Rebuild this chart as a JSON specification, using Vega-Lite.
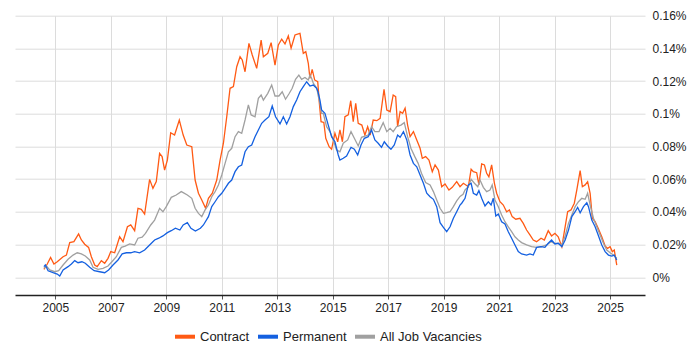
{
  "$schema": "https://vega.github.io/schema/vega-lite/v6.json",
  "width": 630,
  "height": 279.3,
  "autosize": "none",
  "padding": {"left": 15, "top": 15.7, "right": 55, "bottom": 55},
  "background": "white",
  "config": {
    "view": {"stroke": null},
    "font": "Liberation Sans",
    "axis": {"labelFont": "Liberation Sans", "labelFontSize": 12, "labelColor": "#222", "gridColor": "#dcdcdc", "gridWidth": 1},
    "legend": {"labelFont": "Liberation Sans", "labelFontSize": 13, "labelColor": "#222"}
  },
  "data": {"values": [
{"d":2004.59,"s":"Contract","v":0.0049},{"d":2004.71,"s":"Contract","v":0.0081},{"d":2004.83,"s":"Contract","v":0.0122},{"d":2004.95,"s":"Contract","v":0.0081},{"d":2005.07,"s":"Contract","v":0.0095},{"d":2005.28,"s":"Contract","v":0.0126},{"d":2005.40,"s":"Contract","v":0.0136},{"d":2005.52,"s":"Contract","v":0.0212},{"d":2005.67,"s":"Contract","v":0.0218},{"d":2005.84,"s":"Contract","v":0.0265},{"d":2005.94,"s":"Contract","v":0.0228},{"d":2006.06,"s":"Contract","v":0.0202},{"d":2006.20,"s":"Contract","v":0.0183},{"d":2006.30,"s":"Contract","v":0.0126},{"d":2006.42,"s":"Contract","v":0.0075},{"d":2006.51,"s":"Contract","v":0.0065},{"d":2006.66,"s":"Contract","v":0.0102},{"d":2006.78,"s":"Contract","v":0.0086},{"d":2006.90,"s":"Contract","v":0.0116},{"d":2007.00,"s":"Contract","v":0.0157},{"d":2007.14,"s":"Contract","v":0.0150},{"d":2007.32,"s":"Contract","v":0.0248},{"d":2007.44,"s":"Contract","v":0.0218},{"d":2007.60,"s":"Contract","v":0.0309},{"d":2007.72,"s":"Contract","v":0.0320},{"d":2007.86,"s":"Contract","v":0.0285},{"d":2007.98,"s":"Contract","v":0.0422},{"d":2008.10,"s":"Contract","v":0.0416},{"d":2008.22,"s":"Contract","v":0.0387},{"d":2008.40,"s":"Contract","v":0.0599},{"d":2008.52,"s":"Contract","v":0.0544},{"d":2008.64,"s":"Contract","v":0.0585},{"d":2008.76,"s":"Contract","v":0.0758},{"d":2008.85,"s":"Contract","v":0.0738},{"d":2008.94,"s":"Contract","v":0.0656},{"d":2009.04,"s":"Contract","v":0.0717},{"d":2009.16,"s":"Contract","v":0.0884},{"d":2009.30,"s":"Contract","v":0.0870},{"d":2009.47,"s":"Contract","v":0.0962},{"d":2009.61,"s":"Contract","v":0.0870},{"d":2009.74,"s":"Contract","v":0.0809},{"d":2009.92,"s":"Contract","v":0.0799},{"d":2010.04,"s":"Contract","v":0.0595},{"d":2010.16,"s":"Contract","v":0.0514},{"d":2010.28,"s":"Contract","v":0.0473},{"d":2010.42,"s":"Contract","v":0.0422},{"d":2010.52,"s":"Contract","v":0.0483},{"d":2010.66,"s":"Contract","v":0.0514},{"d":2010.82,"s":"Contract","v":0.0595},{"d":2010.94,"s":"Contract","v":0.0717},{"d":2011.06,"s":"Contract","v":0.0820},{"d":2011.18,"s":"Contract","v":0.0982},{"d":2011.30,"s":"Contract","v":0.1156},{"d":2011.42,"s":"Contract","v":0.1166},{"d":2011.54,"s":"Contract","v":0.1288},{"d":2011.66,"s":"Contract","v":0.1349},{"d":2011.74,"s":"Contract","v":0.1329},{"d":2011.84,"s":"Contract","v":0.1257},{"d":2011.98,"s":"Contract","v":0.1431},{"d":2012.10,"s":"Contract","v":0.1360},{"d":2012.26,"s":"Contract","v":0.1278},{"d":2012.42,"s":"Contract","v":0.1451},{"d":2012.50,"s":"Contract","v":0.1349},{"d":2012.66,"s":"Contract","v":0.1370},{"d":2012.78,"s":"Contract","v":0.1435},{"d":2012.92,"s":"Contract","v":0.1298},{"d":2013.04,"s":"Contract","v":0.1421},{"d":2013.16,"s":"Contract","v":0.1456},{"d":2013.28,"s":"Contract","v":0.1427},{"d":2013.40,"s":"Contract","v":0.1476},{"d":2013.50,"s":"Contract","v":0.1401},{"d":2013.64,"s":"Contract","v":0.1482},{"d":2013.82,"s":"Contract","v":0.1492},{"d":2013.94,"s":"Contract","v":0.1370},{"d":2014.03,"s":"Contract","v":0.1380},{"d":2014.12,"s":"Contract","v":0.1309},{"d":2014.18,"s":"Contract","v":0.1217},{"d":2014.26,"s":"Contract","v":0.1272},{"d":2014.35,"s":"Contract","v":0.1207},{"d":2014.46,"s":"Contract","v":0.1196},{"d":2014.52,"s":"Contract","v":0.1064},{"d":2014.58,"s":"Contract","v":0.0952},{"d":2014.68,"s":"Contract","v":0.0947},{"d":2014.75,"s":"Contract","v":0.0850},{"d":2014.87,"s":"Contract","v":0.0799},{"d":2014.96,"s":"Contract","v":0.0783},{"d":2015.08,"s":"Contract","v":0.0881},{"d":2015.18,"s":"Contract","v":0.0829},{"d":2015.26,"s":"Contract","v":0.0901},{"d":2015.35,"s":"Contract","v":0.0829},{"d":2015.44,"s":"Contract","v":0.0982},{"d":2015.56,"s":"Contract","v":0.0993},{"d":2015.65,"s":"Contract","v":0.1080},{"d":2015.74,"s":"Contract","v":0.0952},{"d":2015.83,"s":"Contract","v":0.1064},{"d":2015.92,"s":"Contract","v":0.0942},{"d":2016.05,"s":"Contract","v":0.0931},{"d":2016.16,"s":"Contract","v":0.0870},{"d":2016.26,"s":"Contract","v":0.0921},{"d":2016.35,"s":"Contract","v":0.0870},{"d":2016.46,"s":"Contract","v":0.0962},{"d":2016.59,"s":"Contract","v":0.0958},{"d":2016.71,"s":"Contract","v":0.0972},{"d":2016.85,"s":"Contract","v":0.1150},{"d":2016.95,"s":"Contract","v":0.1023},{"d":2017.07,"s":"Contract","v":0.1013},{"d":2017.18,"s":"Contract","v":0.1115},{"d":2017.27,"s":"Contract","v":0.1105},{"d":2017.34,"s":"Contract","v":0.0921},{"d":2017.43,"s":"Contract","v":0.1013},{"d":2017.52,"s":"Contract","v":0.1003},{"d":2017.61,"s":"Contract","v":0.1034},{"d":2017.70,"s":"Contract","v":0.0931},{"d":2017.79,"s":"Contract","v":0.0860},{"d":2017.91,"s":"Contract","v":0.0891},{"d":2018.03,"s":"Contract","v":0.0840},{"d":2018.15,"s":"Contract","v":0.0789},{"d":2018.23,"s":"Contract","v":0.0728},{"d":2018.35,"s":"Contract","v":0.0738},{"d":2018.47,"s":"Contract","v":0.0717},{"d":2018.59,"s":"Contract","v":0.0646},{"d":2018.69,"s":"Contract","v":0.0687},{"d":2018.81,"s":"Contract","v":0.0656},{"d":2018.93,"s":"Contract","v":0.0554},{"d":2019.05,"s":"Contract","v":0.0571},{"d":2019.19,"s":"Contract","v":0.0534},{"d":2019.31,"s":"Contract","v":0.0550},{"d":2019.47,"s":"Contract","v":0.0585},{"d":2019.59,"s":"Contract","v":0.0554},{"d":2019.71,"s":"Contract","v":0.0575},{"d":2019.89,"s":"Contract","v":0.0554},{"d":2019.99,"s":"Contract","v":0.0661},{"d":2020.07,"s":"Contract","v":0.0646},{"d":2020.19,"s":"Contract","v":0.0640},{"d":2020.27,"s":"Contract","v":0.0565},{"d":2020.37,"s":"Contract","v":0.0693},{"d":2020.47,"s":"Contract","v":0.0687},{"d":2020.55,"s":"Contract","v":0.0636},{"d":2020.63,"s":"Contract","v":0.0615},{"d":2020.73,"s":"Contract","v":0.0687},{"d":2020.83,"s":"Contract","v":0.0575},{"d":2020.91,"s":"Contract","v":0.0514},{"d":2021.03,"s":"Contract","v":0.0462},{"d":2021.15,"s":"Contract","v":0.0442},{"d":2021.27,"s":"Contract","v":0.0401},{"d":2021.37,"s":"Contract","v":0.0412},{"d":2021.47,"s":"Contract","v":0.0371},{"d":2021.60,"s":"Contract","v":0.0355},{"d":2021.75,"s":"Contract","v":0.0361},{"d":2021.87,"s":"Contract","v":0.0330},{"d":2021.99,"s":"Contract","v":0.0289},{"d":2022.11,"s":"Contract","v":0.0259},{"d":2022.23,"s":"Contract","v":0.0228},{"d":2022.35,"s":"Contract","v":0.0218},{"d":2022.51,"s":"Contract","v":0.0239},{"d":2022.63,"s":"Contract","v":0.0228},{"d":2022.77,"s":"Contract","v":0.0285},{"d":2022.89,"s":"Contract","v":0.0253},{"d":2023.01,"s":"Contract","v":0.0269},{"d":2023.13,"s":"Contract","v":0.0248},{"d":2023.26,"s":"Contract","v":0.0187},{"d":2023.35,"s":"Contract","v":0.0279},{"d":2023.47,"s":"Contract","v":0.0401},{"d":2023.59,"s":"Contract","v":0.0412},{"d":2023.71,"s":"Contract","v":0.0453},{"d":2023.80,"s":"Contract","v":0.0534},{"d":2023.92,"s":"Contract","v":0.0652},{"d":2024.00,"s":"Contract","v":0.0554},{"d":2024.10,"s":"Contract","v":0.0565},{"d":2024.19,"s":"Contract","v":0.0585},{"d":2024.28,"s":"Contract","v":0.0514},{"d":2024.36,"s":"Contract","v":0.0361},{"d":2024.46,"s":"Contract","v":0.0340},{"d":2024.57,"s":"Contract","v":0.0300},{"d":2024.70,"s":"Contract","v":0.0248},{"d":2024.82,"s":"Contract","v":0.0191},{"d":2024.91,"s":"Contract","v":0.0177},{"d":2025.00,"s":"Contract","v":0.0187},{"d":2025.08,"s":"Contract","v":0.0157},{"d":2025.15,"s":"Contract","v":0.0167},{"d":2025.24,"s":"Contract","v":0.0075},
{"d":2004.59,"s":"All Job Vacancies","v":0.0055},{"d":2004.68,"s":"All Job Vacancies","v":0.0069},{"d":2004.80,"s":"All Job Vacancies","v":0.0045},{"d":2004.98,"s":"All Job Vacancies","v":0.0034},{"d":2005.12,"s":"All Job Vacancies","v":0.0040},{"d":2005.28,"s":"All Job Vacancies","v":0.0075},{"d":2005.46,"s":"All Job Vacancies","v":0.0110},{"d":2005.64,"s":"All Job Vacancies","v":0.0136},{"d":2005.79,"s":"All Job Vacancies","v":0.0150},{"d":2005.94,"s":"All Job Vacancies","v":0.0143},{"d":2006.08,"s":"All Job Vacancies","v":0.0130},{"d":2006.24,"s":"All Job Vacancies","v":0.0106},{"d":2006.36,"s":"All Job Vacancies","v":0.0061},{"d":2006.54,"s":"All Job Vacancies","v":0.0049},{"d":2006.72,"s":"All Job Vacancies","v":0.0055},{"d":2006.90,"s":"All Job Vacancies","v":0.0069},{"d":2007.04,"s":"All Job Vacancies","v":0.0095},{"d":2007.20,"s":"All Job Vacancies","v":0.0126},{"d":2007.38,"s":"All Job Vacancies","v":0.0183},{"d":2007.52,"s":"All Job Vacancies","v":0.0191},{"d":2007.68,"s":"All Job Vacancies","v":0.0204},{"d":2007.86,"s":"All Job Vacancies","v":0.0198},{"d":2007.98,"s":"All Job Vacancies","v":0.0239},{"d":2008.13,"s":"All Job Vacancies","v":0.0245},{"d":2008.25,"s":"All Job Vacancies","v":0.0269},{"d":2008.44,"s":"All Job Vacancies","v":0.0320},{"d":2008.58,"s":"All Job Vacancies","v":0.0350},{"d":2008.76,"s":"All Job Vacancies","v":0.0422},{"d":2008.88,"s":"All Job Vacancies","v":0.0401},{"d":2009.00,"s":"All Job Vacancies","v":0.0432},{"d":2009.18,"s":"All Job Vacancies","v":0.0489},{"d":2009.36,"s":"All Job Vacancies","v":0.0503},{"d":2009.54,"s":"All Job Vacancies","v":0.0524},{"d":2009.61,"s":"All Job Vacancies","v":0.0518},{"d":2009.76,"s":"All Job Vacancies","v":0.0503},{"d":2009.92,"s":"All Job Vacancies","v":0.0483},{"d":2010.04,"s":"All Job Vacancies","v":0.0422},{"d":2010.16,"s":"All Job Vacancies","v":0.0391},{"d":2010.28,"s":"All Job Vacancies","v":0.0371},{"d":2010.40,"s":"All Job Vacancies","v":0.0412},{"d":2010.52,"s":"All Job Vacancies","v":0.0442},{"d":2010.64,"s":"All Job Vacancies","v":0.0493},{"d":2010.76,"s":"All Job Vacancies","v":0.0524},{"d":2010.88,"s":"All Job Vacancies","v":0.0565},{"d":2011.00,"s":"All Job Vacancies","v":0.0626},{"d":2011.12,"s":"All Job Vacancies","v":0.0697},{"d":2011.24,"s":"All Job Vacancies","v":0.0768},{"d":2011.36,"s":"All Job Vacancies","v":0.0789},{"d":2011.48,"s":"All Job Vacancies","v":0.0860},{"d":2011.60,"s":"All Job Vacancies","v":0.0891},{"d":2011.72,"s":"All Job Vacancies","v":0.0881},{"d":2011.84,"s":"All Job Vacancies","v":0.0962},{"d":2011.96,"s":"All Job Vacancies","v":0.1054},{"d":2012.06,"s":"All Job Vacancies","v":0.0993},{"d":2012.20,"s":"All Job Vacancies","v":0.0982},{"d":2012.32,"s":"All Job Vacancies","v":0.1095},{"d":2012.42,"s":"All Job Vacancies","v":0.1115},{"d":2012.50,"s":"All Job Vacancies","v":0.1084},{"d":2012.66,"s":"All Job Vacancies","v":0.1125},{"d":2012.80,"s":"All Job Vacancies","v":0.1176},{"d":2012.92,"s":"All Job Vacancies","v":0.1109},{"d":2013.06,"s":"All Job Vacancies","v":0.1109},{"d":2013.18,"s":"All Job Vacancies","v":0.1135},{"d":2013.30,"s":"All Job Vacancies","v":0.1089},{"d":2013.42,"s":"All Job Vacancies","v":0.1121},{"d":2013.54,"s":"All Job Vacancies","v":0.1156},{"d":2013.66,"s":"All Job Vacancies","v":0.1211},{"d":2013.78,"s":"All Job Vacancies","v":0.1237},{"d":2013.88,"s":"All Job Vacancies","v":0.1211},{"d":2014.00,"s":"All Job Vacancies","v":0.1222},{"d":2014.12,"s":"All Job Vacancies","v":0.1207},{"d":2014.18,"s":"All Job Vacancies","v":0.1237},{"d":2014.24,"s":"All Job Vacancies","v":0.1217},{"d":2014.30,"s":"All Job Vacancies","v":0.1187},{"d":2014.35,"s":"All Job Vacancies","v":0.1176},{"d":2014.43,"s":"All Job Vacancies","v":0.1156},{"d":2014.47,"s":"All Job Vacancies","v":0.1115},{"d":2014.54,"s":"All Job Vacancies","v":0.1064},{"d":2014.60,"s":"All Job Vacancies","v":0.1003},{"d":2014.66,"s":"All Job Vacancies","v":0.1003},{"d":2014.72,"s":"All Job Vacancies","v":0.0962},{"d":2014.78,"s":"All Job Vacancies","v":0.0921},{"d":2014.90,"s":"All Job Vacancies","v":0.0891},{"d":2015.02,"s":"All Job Vacancies","v":0.0840},{"d":2015.14,"s":"All Job Vacancies","v":0.0779},{"d":2015.26,"s":"All Job Vacancies","v":0.0768},{"d":2015.38,"s":"All Job Vacancies","v":0.0820},{"d":2015.54,"s":"All Job Vacancies","v":0.0840},{"d":2015.66,"s":"All Job Vacancies","v":0.0891},{"d":2015.78,"s":"All Job Vacancies","v":0.0850},{"d":2015.92,"s":"All Job Vacancies","v":0.0803},{"d":2016.04,"s":"All Job Vacancies","v":0.0856},{"d":2016.16,"s":"All Job Vacancies","v":0.0864},{"d":2016.28,"s":"All Job Vacancies","v":0.0870},{"d":2016.40,"s":"All Job Vacancies","v":0.0921},{"d":2016.52,"s":"All Job Vacancies","v":0.0891},{"d":2016.67,"s":"All Job Vacancies","v":0.0891},{"d":2016.82,"s":"All Job Vacancies","v":0.0946},{"d":2016.95,"s":"All Job Vacancies","v":0.0891},{"d":2017.07,"s":"All Job Vacancies","v":0.0911},{"d":2017.18,"s":"All Job Vacancies","v":0.0891},{"d":2017.30,"s":"All Job Vacancies","v":0.0921},{"d":2017.46,"s":"All Job Vacancies","v":0.0931},{"d":2017.58,"s":"All Job Vacancies","v":0.0946},{"d":2017.70,"s":"All Job Vacancies","v":0.0860},{"d":2017.82,"s":"All Job Vacancies","v":0.0789},{"d":2017.96,"s":"All Job Vacancies","v":0.0738},{"d":2018.08,"s":"All Job Vacancies","v":0.0697},{"d":2018.20,"s":"All Job Vacancies","v":0.0636},{"d":2018.35,"s":"All Job Vacancies","v":0.0579},{"d":2018.51,"s":"All Job Vacancies","v":0.0565},{"d":2018.63,"s":"All Job Vacancies","v":0.0524},{"d":2018.75,"s":"All Job Vacancies","v":0.0473},{"d":2018.87,"s":"All Job Vacancies","v":0.0422},{"d":2018.99,"s":"All Job Vacancies","v":0.0391},{"d":2019.11,"s":"All Job Vacancies","v":0.0395},{"d":2019.23,"s":"All Job Vacancies","v":0.0401},{"d":2019.35,"s":"All Job Vacancies","v":0.0432},{"d":2019.47,"s":"All Job Vacancies","v":0.0467},{"d":2019.59,"s":"All Job Vacancies","v":0.0495},{"d":2019.70,"s":"All Job Vacancies","v":0.0508},{"d":2019.77,"s":"All Job Vacancies","v":0.0534},{"d":2019.89,"s":"All Job Vacancies","v":0.0554},{"d":2019.99,"s":"All Job Vacancies","v":0.0599},{"d":2020.11,"s":"All Job Vacancies","v":0.0575},{"d":2020.23,"s":"All Job Vacancies","v":0.0554},{"d":2020.31,"s":"All Job Vacancies","v":0.0595},{"d":2020.43,"s":"All Job Vacancies","v":0.0550},{"d":2020.55,"s":"All Job Vacancies","v":0.0524},{"d":2020.67,"s":"All Job Vacancies","v":0.0534},{"d":2020.75,"s":"All Job Vacancies","v":0.0565},{"d":2020.85,"s":"All Job Vacancies","v":0.0473},{"d":2020.97,"s":"All Job Vacancies","v":0.0432},{"d":2021.09,"s":"All Job Vacancies","v":0.0381},{"d":2021.21,"s":"All Job Vacancies","v":0.0340},{"d":2021.33,"s":"All Job Vacancies","v":0.0309},{"d":2021.45,"s":"All Job Vacancies","v":0.0279},{"d":2021.57,"s":"All Job Vacancies","v":0.0248},{"d":2021.69,"s":"All Job Vacancies","v":0.0228},{"d":2021.81,"s":"All Job Vacancies","v":0.0212},{"d":2021.99,"s":"All Job Vacancies","v":0.0198},{"d":2022.17,"s":"All Job Vacancies","v":0.0187},{"d":2022.35,"s":"All Job Vacancies","v":0.0183},{"d":2022.53,"s":"All Job Vacancies","v":0.0187},{"d":2022.71,"s":"All Job Vacancies","v":0.0198},{"d":2022.87,"s":"All Job Vacancies","v":0.0218},{"d":2022.99,"s":"All Job Vacancies","v":0.0208},{"d":2023.13,"s":"All Job Vacancies","v":0.0208},{"d":2023.26,"s":"All Job Vacancies","v":0.0198},{"d":2023.38,"s":"All Job Vacancies","v":0.0253},{"d":2023.50,"s":"All Job Vacancies","v":0.0330},{"d":2023.62,"s":"All Job Vacancies","v":0.0381},{"d":2023.74,"s":"All Job Vacancies","v":0.0432},{"d":2023.86,"s":"All Job Vacancies","v":0.0462},{"d":2023.98,"s":"All Job Vacancies","v":0.0483},{"d":2024.10,"s":"All Job Vacancies","v":0.0477},{"d":2024.19,"s":"All Job Vacancies","v":0.0514},{"d":2024.28,"s":"All Job Vacancies","v":0.0442},{"d":2024.40,"s":"All Job Vacancies","v":0.0361},{"d":2024.52,"s":"All Job Vacancies","v":0.0309},{"d":2024.64,"s":"All Job Vacancies","v":0.0259},{"d":2024.76,"s":"All Job Vacancies","v":0.0208},{"d":2024.88,"s":"All Job Vacancies","v":0.0167},{"d":2025.00,"s":"All Job Vacancies","v":0.0150},{"d":2025.12,"s":"All Job Vacancies","v":0.0136},{"d":2025.24,"s":"All Job Vacancies","v":0.0116},
{"d":2004.59,"s":"Permanent","v":0.0065},{"d":2004.64,"s":"Permanent","v":0.0075},{"d":2004.74,"s":"Permanent","v":0.0040},{"d":2004.92,"s":"Permanent","v":0.0028},{"d":2005.07,"s":"Permanent","v":0.0020},{"d":2005.16,"s":"Permanent","v":0.0008},{"d":2005.28,"s":"Permanent","v":0.0045},{"d":2005.46,"s":"Permanent","v":0.0065},{"d":2005.58,"s":"Permanent","v":0.0081},{"d":2005.70,"s":"Permanent","v":0.0102},{"d":2005.82,"s":"Permanent","v":0.0089},{"d":2005.96,"s":"Permanent","v":0.0095},{"d":2006.08,"s":"Permanent","v":0.0086},{"d":2006.24,"s":"Permanent","v":0.0061},{"d":2006.40,"s":"Permanent","v":0.0040},{"d":2006.60,"s":"Permanent","v":0.0034},{"d":2006.78,"s":"Permanent","v":0.0028},{"d":2006.92,"s":"Permanent","v":0.0045},{"d":2007.08,"s":"Permanent","v":0.0075},{"d":2007.26,"s":"Permanent","v":0.0106},{"d":2007.41,"s":"Permanent","v":0.0143},{"d":2007.56,"s":"Permanent","v":0.0150},{"d":2007.72,"s":"Permanent","v":0.0150},{"d":2007.86,"s":"Permanent","v":0.0157},{"d":2008.04,"s":"Permanent","v":0.0150},{"d":2008.22,"s":"Permanent","v":0.0167},{"d":2008.40,"s":"Permanent","v":0.0198},{"d":2008.58,"s":"Permanent","v":0.0228},{"d":2008.73,"s":"Permanent","v":0.0239},{"d":2008.88,"s":"Permanent","v":0.0253},{"d":2009.04,"s":"Permanent","v":0.0273},{"d":2009.18,"s":"Permanent","v":0.0285},{"d":2009.33,"s":"Permanent","v":0.0300},{"d":2009.49,"s":"Permanent","v":0.0289},{"d":2009.61,"s":"Permanent","v":0.0320},{"d":2009.76,"s":"Permanent","v":0.0334},{"d":2009.89,"s":"Permanent","v":0.0300},{"d":2010.05,"s":"Permanent","v":0.0283},{"d":2010.23,"s":"Permanent","v":0.0300},{"d":2010.34,"s":"Permanent","v":0.0320},{"d":2010.52,"s":"Permanent","v":0.0371},{"d":2010.64,"s":"Permanent","v":0.0432},{"d":2010.76,"s":"Permanent","v":0.0462},{"d":2010.88,"s":"Permanent","v":0.0493},{"d":2011.00,"s":"Permanent","v":0.0514},{"d":2011.12,"s":"Permanent","v":0.0544},{"d":2011.24,"s":"Permanent","v":0.0575},{"d":2011.36,"s":"Permanent","v":0.0595},{"d":2011.48,"s":"Permanent","v":0.0646},{"d":2011.60,"s":"Permanent","v":0.0676},{"d":2011.72,"s":"Permanent","v":0.0687},{"d":2011.84,"s":"Permanent","v":0.0768},{"d":2011.96,"s":"Permanent","v":0.0799},{"d":2012.08,"s":"Permanent","v":0.0809},{"d":2012.20,"s":"Permanent","v":0.0860},{"d":2012.32,"s":"Permanent","v":0.0901},{"d":2012.44,"s":"Permanent","v":0.0942},{"d":2012.56,"s":"Permanent","v":0.0962},{"d":2012.70,"s":"Permanent","v":0.0982},{"d":2012.82,"s":"Permanent","v":0.1048},{"d":2012.94,"s":"Permanent","v":0.0982},{"d":2013.10,"s":"Permanent","v":0.0938},{"d":2013.22,"s":"Permanent","v":0.0982},{"d":2013.34,"s":"Permanent","v":0.0938},{"d":2013.46,"s":"Permanent","v":0.0982},{"d":2013.58,"s":"Permanent","v":0.1044},{"d":2013.70,"s":"Permanent","v":0.1084},{"d":2013.82,"s":"Permanent","v":0.1135},{"d":2013.94,"s":"Permanent","v":0.1166},{"d":2014.06,"s":"Permanent","v":0.1196},{"d":2014.18,"s":"Permanent","v":0.1170},{"d":2014.30,"s":"Permanent","v":0.1176},{"d":2014.42,"s":"Permanent","v":0.1156},{"d":2014.47,"s":"Permanent","v":0.1135},{"d":2014.54,"s":"Permanent","v":0.1084},{"d":2014.60,"s":"Permanent","v":0.1023},{"d":2014.72,"s":"Permanent","v":0.1003},{"d":2014.84,"s":"Permanent","v":0.0931},{"d":2014.96,"s":"Permanent","v":0.0860},{"d":2015.08,"s":"Permanent","v":0.0829},{"d":2015.20,"s":"Permanent","v":0.0748},{"d":2015.26,"s":"Permanent","v":0.0717},{"d":2015.38,"s":"Permanent","v":0.0728},{"d":2015.50,"s":"Permanent","v":0.0742},{"d":2015.66,"s":"Permanent","v":0.0795},{"d":2015.78,"s":"Permanent","v":0.0783},{"d":2015.90,"s":"Permanent","v":0.0748},{"d":2016.02,"s":"Permanent","v":0.0809},{"d":2016.14,"s":"Permanent","v":0.0850},{"d":2016.28,"s":"Permanent","v":0.0860},{"d":2016.40,"s":"Permanent","v":0.0901},{"d":2016.52,"s":"Permanent","v":0.0840},{"d":2016.64,"s":"Permanent","v":0.0820},{"d":2016.76,"s":"Permanent","v":0.0795},{"d":2016.86,"s":"Permanent","v":0.0829},{"d":2016.98,"s":"Permanent","v":0.0803},{"d":2017.10,"s":"Permanent","v":0.0783},{"d":2017.22,"s":"Permanent","v":0.0809},{"d":2017.34,"s":"Permanent","v":0.0870},{"d":2017.43,"s":"Permanent","v":0.0856},{"d":2017.55,"s":"Permanent","v":0.0891},{"d":2017.67,"s":"Permanent","v":0.0840},{"d":2017.79,"s":"Permanent","v":0.0748},{"d":2017.91,"s":"Permanent","v":0.0697},{"d":2018.03,"s":"Permanent","v":0.0676},{"d":2018.15,"s":"Permanent","v":0.0626},{"d":2018.27,"s":"Permanent","v":0.0575},{"d":2018.39,"s":"Permanent","v":0.0514},{"d":2018.51,"s":"Permanent","v":0.0493},{"d":2018.63,"s":"Permanent","v":0.0477},{"d":2018.75,"s":"Permanent","v":0.0432},{"d":2018.87,"s":"Permanent","v":0.0334},{"d":2018.99,"s":"Permanent","v":0.0306},{"d":2019.11,"s":"Permanent","v":0.0279},{"d":2019.23,"s":"Permanent","v":0.0309},{"d":2019.35,"s":"Permanent","v":0.0361},{"d":2019.47,"s":"Permanent","v":0.0401},{"d":2019.59,"s":"Permanent","v":0.0442},{"d":2019.65,"s":"Permanent","v":0.0453},{"d":2019.77,"s":"Permanent","v":0.0483},{"d":2019.89,"s":"Permanent","v":0.0565},{"d":2019.99,"s":"Permanent","v":0.0575},{"d":2020.07,"s":"Permanent","v":0.0514},{"d":2020.19,"s":"Permanent","v":0.0503},{"d":2020.27,"s":"Permanent","v":0.0530},{"d":2020.37,"s":"Permanent","v":0.0483},{"d":2020.49,"s":"Permanent","v":0.0436},{"d":2020.61,"s":"Permanent","v":0.0462},{"d":2020.71,"s":"Permanent","v":0.0442},{"d":2020.79,"s":"Permanent","v":0.0483},{"d":2020.88,"s":"Permanent","v":0.0375},{"d":2020.97,"s":"Permanent","v":0.0387},{"d":2021.09,"s":"Permanent","v":0.0340},{"d":2021.21,"s":"Permanent","v":0.0326},{"d":2021.33,"s":"Permanent","v":0.0279},{"d":2021.45,"s":"Permanent","v":0.0239},{"d":2021.57,"s":"Permanent","v":0.0198},{"d":2021.69,"s":"Permanent","v":0.0157},{"d":2021.81,"s":"Permanent","v":0.0143},{"d":2021.99,"s":"Permanent","v":0.0136},{"d":2022.11,"s":"Permanent","v":0.0143},{"d":2022.23,"s":"Permanent","v":0.0136},{"d":2022.35,"s":"Permanent","v":0.0183},{"d":2022.51,"s":"Permanent","v":0.0187},{"d":2022.65,"s":"Permanent","v":0.0183},{"d":2022.77,"s":"Permanent","v":0.0208},{"d":2022.89,"s":"Permanent","v":0.0228},{"d":2023.01,"s":"Permanent","v":0.0204},{"d":2023.13,"s":"Permanent","v":0.0208},{"d":2023.26,"s":"Permanent","v":0.0187},{"d":2023.38,"s":"Permanent","v":0.0228},{"d":2023.50,"s":"Permanent","v":0.0289},{"d":2023.62,"s":"Permanent","v":0.0371},{"d":2023.74,"s":"Permanent","v":0.0401},{"d":2023.83,"s":"Permanent","v":0.0428},{"d":2023.92,"s":"Permanent","v":0.0395},{"d":2024.04,"s":"Permanent","v":0.0432},{"d":2024.16,"s":"Permanent","v":0.0456},{"d":2024.22,"s":"Permanent","v":0.0432},{"d":2024.34,"s":"Permanent","v":0.0350},{"d":2024.46,"s":"Permanent","v":0.0309},{"d":2024.57,"s":"Permanent","v":0.0259},{"d":2024.70,"s":"Permanent","v":0.0198},{"d":2024.82,"s":"Permanent","v":0.0157},{"d":2024.94,"s":"Permanent","v":0.0136},{"d":2025.06,"s":"Permanent","v":0.0130},{"d":2025.15,"s":"Permanent","v":0.0136},{"d":2025.24,"s":"Permanent","v":0.0106}
  ]},
  "mark": {"type": "line", "strokeWidth": 1.3, "interpolate": "linear"},
  "encoding": {
    "x": {
      "field": "d", "type": "quantitative",
      "scale": {"domain": [2003.547, 2026.258], "nice": false, "zero": false},
      "axis": {"title": null, "values": [2005,2007,2009,2011,2013,2015,2017,2019,2021,2023,2025], "format": "d", "grid": true, "domainColor": "#222", "domainWidth": 1.3, "tickColor": "#555", "tickSize": 4, "labelPadding": 3, "labelFlush": false}
    },
    "y": {
      "field": "v", "type": "quantitative",
      "scale": {"domain": [-0.01083, 0.16], "nice": false, "zero": false},
      "axis": {"title": null, "orient": "right", "values": [0,0.02,0.04,0.06,0.08,0.1,0.12,0.14,0.16], "labelExpr": "format(datum.value, '.2~f') + '%'", "domain": false, "ticks": false, "labelPadding": 7, "labelAlign": "left", "labelBaseline": "middle", "labelFlush": false}
    },
    "color": {
      "field": "s", "type": "nominal",
      "scale": {"domain": ["Contract", "Permanent", "All Job Vacancies"], "range": ["#ff5a14", "#1460e0", "#a0a0a0"]},
      "legend": {"title": null, "orient": "none", "legendX": 158, "legendY": 309, "direction": "horizontal", "symbolType": "stroke", "symbolSize": 400, "symbolStrokeWidth": 4, "labelOffset": 3, "columnPadding": 0}
    },
    "order": {"field": "d"}
  }
}
